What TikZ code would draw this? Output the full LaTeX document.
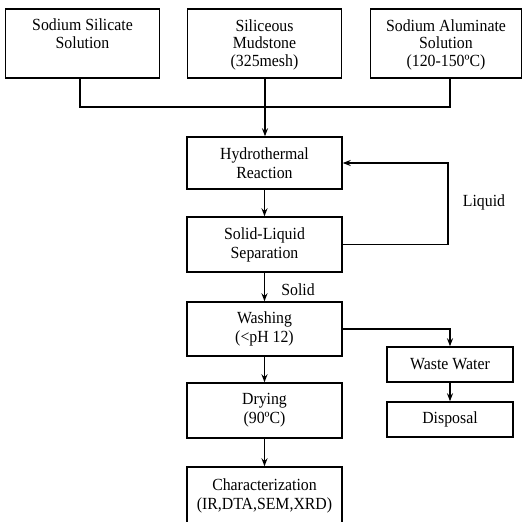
\documentclass[tikz,border=0pt]{standalone}
\usepackage{fontspec}
\setmainfont[FakeStretch=0.93]{Liberation Serif}
\usepackage{tikz}
\usetikzlibrary{arrows.meta}
\tikzset{
    box/.style={draw, rectangle, align=center, inner sep=3pt}, % process box
    topbox/.style={box, minimum width=154pt, text height=53pt, text depth=8pt, inner ysep=4pt, font=\fontsize{17}{17.5}\selectfont}, % raw materials
    midbox/.style={box, minimum width=155pt}, % main line
    sidebox/.style={box, minimum width=126pt, minimum height=35pt}, % waste line
    flow/.style={-{Stealth[length=8pt, width=6pt]}} % arrows
}

\begin{document}
\begin{tikzpicture}[x=1pt, y=-1pt, font=\fontsize{17}{19}\selectfont, line width=1.4pt]
    \useasboundingbox (0,0) rectangle (523,522);
    \clip (0,0) rectangle (523,522);

    % raw materials
    \node[topbox, text height=35.5pt, text depth=25.5pt] (silicate) at (82.5,43.5) {Sodium Silicate\\Solution};
    \node[topbox] (mudstone) at (264.5,43.5) {Siliceous\\Mudstone\\(325mesh)};
    \node[topbox, minimum width=151pt] (aluminate) at (446,43.5) {Sodium Aluminate\\Solution\\(120-150ºC)};

    % main line
    \node[midbox, minimum height=52pt] (hydro) at (264.5,163) {Hydrothermal\\Reaction};
    \node[midbox, minimum height=55pt] (sep) at (264.5,244.5) {Solid-Liquid\\Separation};
    \node[midbox, minimum height=54pt] (wash) at (264.5,329) {Washing\\(<pH 12)};
    \node[midbox, minimum height=55pt] (dry) at (264.5,410.5) {Drying\\(90ºC)};
    \node[midbox, minimum height=58pt] (charact) at (264.5,496) {Characterization\\(IR,DTA,SEM,XRD)};

    % waste line
    \node[sidebox] (waste) at (450,364.5) {Waste Water};
    \node[sidebox] (disposal) at (450,419.5) {Disposal};

    \node (liquidlbl) at (484,202) {Liquid};
    \node (solidlbl) at (298,290) {Solid};

    \coordinate (join) at (265,107);
    \coordinate (loop) at (448,0);

    \draw ([xshift=-2.5pt]silicate.south) |- (join) -| ([xshift=4pt]aluminate.south);
    \draw[flow] ([xshift=0.5pt]mudstone.south) -- ([xshift=0.5pt]mudstone.south |- hydro.north);
    \draw[flow] (hydro) -- (sep);
    \draw[flow] (sep.east) -- (sep.east -| loop) |- (hydro.east);
    \draw[flow] (sep) -- (wash);
    \draw[flow] (wash.east) -| (waste.north);
    \draw[flow] (waste) -- (disposal);
    \draw[flow] (wash) -- (dry);
    \draw[flow] (dry) -- (charact);
\end{tikzpicture}
\end{document}
